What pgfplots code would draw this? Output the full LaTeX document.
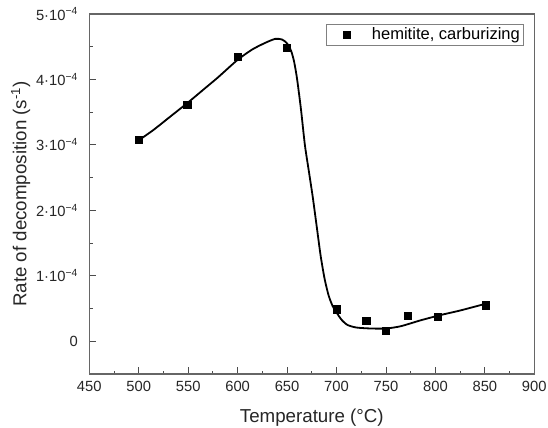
\documentclass[border=0pt]{standalone}
\usepackage{pgfplots}
\pgfplotsset{compat=1.18}
\usepackage{fontspec}
\setmainfont{Liberation Sans}
\begin{document}
\begin{tikzpicture}
\begin{axis}[
  at={(0,0)}, anchor=south west,
  scale only axis,
  width=445bp, height=360bp,
  xmin=450, xmax=900, ymin=-0.5, ymax=5,
  xtick={450,500,...,900},
  minor x tick num=1,
  ytick={0,1,2,3,4,5},
  minor y tick num=1,
  yticklabels={0,{1·10\textsuperscript{−4}},{2·10\textsuperscript{−4}},{3·10\textsuperscript{−4}},{4·10\textsuperscript{−4}},{5·10\textsuperscript{−4}}},
  /pgf/number format/assume math mode=true,
  /pgf/number format/1000 sep={},
  tick label style={font=\fontsize{14.8}{16}\selectfont, text=black!85},
  yticklabel style={xshift=-8bp},
  xticklabel style={yshift=-4bp},
  xlabel={Temperature (°C)},
  ylabel={Rate of decomposition (s\textsuperscript{-1})},
  label style={font=\fontsize{18.8}{20}\selectfont, text=black!85},
  xlabel style={yshift=-10bp},
  ylabel style={yshift=-1bp},
  axis line style={draw=black!60, line width=1.3bp},
  tick style={draw=black!70, line width=0.9bp},
  tick align=inside,
  xtick pos=bottom, ytick pos=left,
  major tick length=7bp, minor tick length=3.5bp,
  clip=false,
  legend style={at={(0.975,0.972)}, anchor=north east, draw=black!50, line width=0.6bp,
    font=\fontsize{16.6}{18}\selectfont, inner xsep=1bp, inner ysep=1.5bp},
  legend image code/.code={\path[draw=none, fill=none, use as bounding box] (0bp,-4bp) rectangle (43bp,4bp);
    \draw[#1] plot coordinates {(20bp,0bp)};},
  legend cell align=left,
]
\addplot[black, line width=1.8bp, smooth, tension=0.4, forget plot] coordinates {
(500,3.07)(515,3.23)(530,3.41)(550,3.65)(565,3.84)(580,4.03)(600,4.30)(615,4.46)
(628,4.56)(638,4.62)(645,4.61)(650,4.55)(654,4.44)(657,4.28)(660,4.02)(664,3.55)
(668,3.00)(672,2.60)(676,2.20)(680,1.75)(684,1.30)(688,0.95)(692,0.70)(696,0.54)
(700,0.44)(705,0.33)(711,0.25)(720,0.21)(735,0.195)(750,0.195)(765,0.23)(785,0.32)
(805,0.40)(825,0.47)(850,0.57)
};
\addplot[only marks, mark=square*, mark size=3.6bp, black] coordinates {
(500,3.08)(549,3.61)(600,4.35)(650,4.49)(700,0.49)(730,0.31)(750,0.16)(772,0.39)(802,0.37)(851,0.55)
};
\addlegendentry{hemitite, carburizing}
\end{axis}
\pgfresetboundingbox
\useasboundingbox (-89.3bp,-54bp) rectangle (458.7bp,374bp);
\end{tikzpicture}
\end{document}
